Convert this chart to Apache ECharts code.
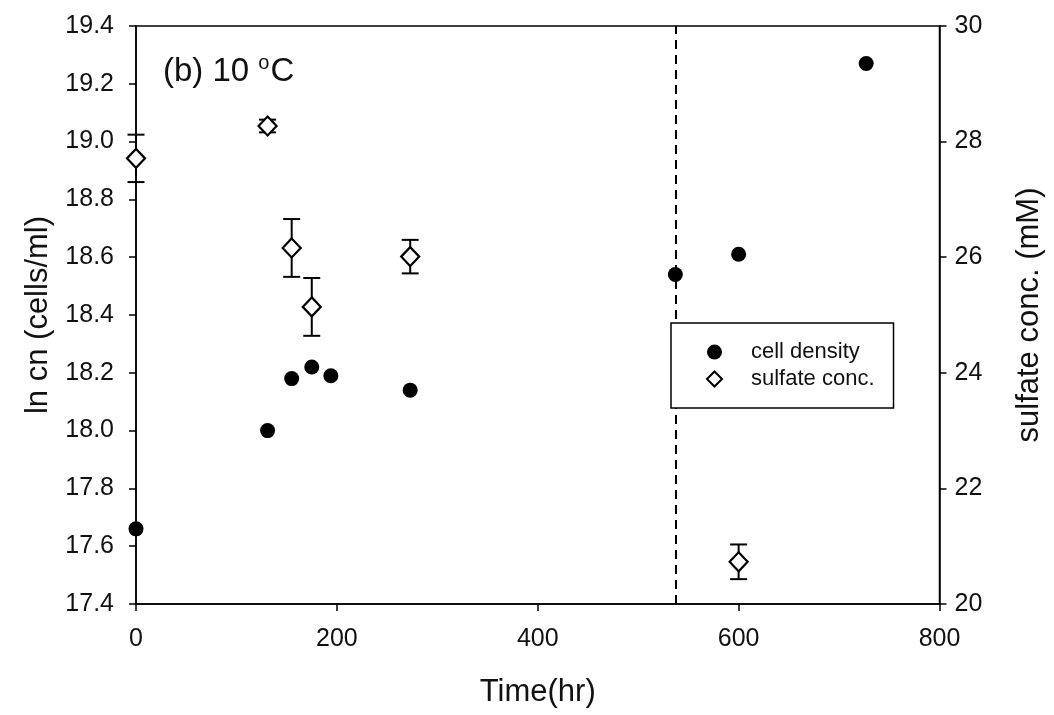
<!DOCTYPE html>
<html>
<head>
<meta charset="utf-8">
<script src="https://cdn.jsdelivr.net/npm/echarts@6/dist/echarts.min.js"></script>
<style>html,body{margin:0;padding:0;background:#fff;}#c{width:1054px;height:715px;}</style>
</head>
<body>
<div id="c"></div>
<script>
// ---- data ----
const cellTime = [0, 131, 155, 175, 194, 273, 537, 600, 727];
const cellLn   = [17.66, 18.00, 18.18, 18.22, 18.19, 18.14, 18.54, 18.61, 19.27];
const sulfTime = [0, 131, 155, 175, 273, 600];
const sulfConc = [27.71, 28.27, 26.16, 25.14, 26.01, 20.73];
const sulfErr  = [0.41, 0.11, 0.50, 0.50, 0.29, 0.30];
const markTime = 537;
const xTicks = [0, 200, 400, 600, 800];
const yLeftTicks = [17.4, 19.4, 0.2];   // min, max, step
const yRightTicks = [20, 30, 2];        // min, max, step

const FONT = "'Liberation Sans', Arial, sans-serif";
const chart = echarts.init(document.getElementById('c'), null, {renderer: 'canvas'});

const cellData = cellTime.map((t, i) => [t, cellLn[i]]);
const sulfData = sulfTime.map((t, i) => [t, sulfConc[i]]);
const errData = sulfTime.map((t, i) => [t, sulfConc[i] - sulfErr[i], sulfConc[i] + sulfErr[i]]);

const axisLabel = {color: '#111', fontSize: 25, fontFamily: FONT};
const axisLine = {show: true, lineStyle: {color: '#000', width: 1.5}};
const axisTick = {show: true, inside: false, length: 7, lineStyle: {color: '#000', width: 1.5}};
const nameStyle = {fontFamily: FONT, fontSize: 31, color: '#111'};

chart.setOption({
  animation: false,
  backgroundColor: '#fff',
  title: {
    text: '(b) 10 {s|o}C',
    left: 158, top: 48,
    textStyle: {
      fontFamily: FONT, fontSize: 33, fontWeight: 'normal', color: '#111',
      lineHeight: 38,
      rich: {s: {fontSize: 20, fontFamily: FONT, color: '#111', verticalAlign: 'top', lineHeight: 38, padding: [0, 1, 14, 0]}}
    }
  },
  grid: {left: 136, right: 114.5, top: 26, bottom: 111, show: true, borderColor: '#000', borderWidth: 1.5, backgroundColor: 'transparent'},
  legend: {
    data: [
      {name: 'cell density', icon: 'circle'},
      {name: 'sulfate conc.', icon: 'diamond'}
    ],
    orient: 'vertical',
    left: 671, top: 323,
    padding: [17, 19, 17, 35],
    itemGap: 3,
    itemWidth: 15, itemHeight: 15,
    borderColor: '#000', borderWidth: 1.5, borderRadius: 0,
    backgroundColor: '#fff',
    textStyle: {fontFamily: FONT, fontSize: 22, color: '#111', padding: [0, 0, 0, 24], lineHeight: 24},
    z: 10
  },
  xAxis: {
    type: 'value', min: xTicks[0], max: xTicks[xTicks.length - 1], interval: xTicks[1] - xTicks[0],
    name: 'Time(hr)', nameLocation: 'middle', nameGap: 73,
    nameTextStyle: nameStyle,
    axisLine, axisTick, splitLine: {show: false},
    axisLabel: Object.assign({margin: 23}, axisLabel)
  },
  yAxis: [
    {
      type: 'value', min: yLeftTicks[0], max: yLeftTicks[1], interval: yLeftTicks[2],
      name: 'ln cn (cells/ml)', nameLocation: 'middle', nameGap: 82, nameRotate: 90,
      nameTextStyle: nameStyle,
      axisLine, axisTick, splitLine: {show: false},
      axisLabel: Object.assign({margin: 22, formatter: v => v.toFixed(1)}, axisLabel)
    },
    {
      type: 'value', position: 'right', min: yRightTicks[0], max: yRightTicks[1], interval: yRightTicks[2],
      name: 'sulfate conc. (mM)', nameLocation: 'middle', nameGap: 74, nameRotate: 90,
      nameTextStyle: nameStyle,
      axisLine, axisTick, splitLine: {show: false},
      axisLabel: Object.assign({margin: 15}, axisLabel)
    }
  ],
  series: [
    {
      name: 'marker', type: 'line', data: [], yAxisIndex: 0, silent: true,
      markLine: {
        silent: true, symbol: ['none', 'none'], label: {show: false},
        lineStyle: {color: '#000', width: 2, type: [9, 6]},
        data: [{xAxis: markTime}]
      }
    },
    {
      name: 'err', type: 'custom', yAxisIndex: 1, data: errData, z: 3,
      encode: {x: 0, y: [1, 2]},
      renderItem: function (params, api) {
        const x = api.value(0);
        const pLo = api.coord([x, api.value(1)]);
        const pHi = api.coord([x, api.value(2)]);
        const w = 8.5;
        const st = {stroke: '#000', lineWidth: 2};
        return {type: 'group', children: [
          {type: 'line', shape: {x1: pLo[0], y1: pLo[1], x2: pHi[0], y2: pHi[1]}, style: st},
          {type: 'line', shape: {x1: pHi[0] - w, y1: pHi[1], x2: pHi[0] + w, y2: pHi[1]}, style: st},
          {type: 'line', shape: {x1: pLo[0] - w, y1: pLo[1], x2: pLo[0] + w, y2: pLo[1]}, style: st}
        ]};
      }
    },
    {
      name: 'cell density', type: 'scatter', yAxisIndex: 0, data: cellData, clip: false, z: 4,
      symbol: 'circle', symbolSize: 15,
      itemStyle: {color: '#000', borderColor: '#000', borderWidth: 0, opacity: 1}
    },
    {
      name: 'sulfate conc.', type: 'scatter', yAxisIndex: 1, data: sulfData, clip: false, z: 5,
      symbol: 'diamond', symbolSize: [18, 19],
      itemStyle: {color: '#fff', borderColor: '#000', borderWidth: 2.2, opacity: 1}
    }
  ]
});
</script>
</body>
</html>
